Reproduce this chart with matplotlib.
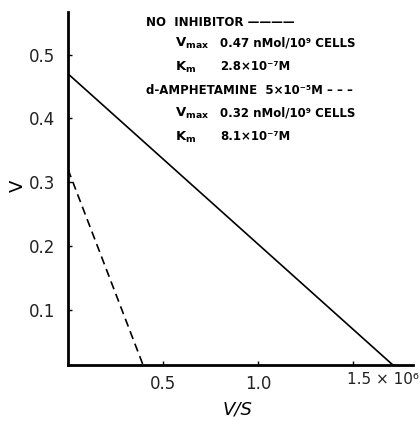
import matplotlib
matplotlib.use('Agg')
import matplotlib.pyplot as plt
import matplotlib.transforms as mtransforms

# values (x in units of 10^6)
solid_x = [0.0, 1.71]
solid_v = [0.47, 0.013]
dashed_x = [0.0, 0.395]
dashed_v = [0.32, 0.013]

y_ticks = [0.1, 0.2, 0.3, 0.4, 0.5]
y_tick_labels = ['0.1', '0.2', '0.3', '0.4', '0.5']
x_ticks = [0.5, 1.0, 1.5]
x_tick_labels = ['0.5', '1.0', '']

vmax_text = ['0.47 nMol/10⁹ CELLS', '0.32 nMol/10⁹ CELLS']
km_text = ['2.8×10⁻⁷M', '8.1×10⁻⁷M']
group_text = ['NO  INHIBITOR ————', 'd-AMPHETAMINE  5×10⁻⁵M – – –']


def plot_lines():
    fig = plt.figure(figsize=(4.2, 4.21), dpi=100)
    ax = fig.add_axes([68 / 420, 1 - 365 / 421, (413 - 68) / 420, (365 - 12) / 421])

    ax.plot(solid_x, solid_v, '-', c='black', lw=1.2)
    ax.plot(dashed_x, dashed_v, c='black', lw=1.2, dashes=(5, 3))

    ax.set_xlim(0, 1.816)
    ax.set_ylim(0.013, 0.567)

    for side in ['top', 'right']:
        ax.spines[side].set_visible(False)
    for side in ['left', 'bottom']:
        ax.spines[side].set_linewidth(2.0)

    ax.set_yticks(y_ticks)
    ax.set_yticklabels(y_tick_labels)
    ax.set_xticks(x_ticks)
    ax.set_xticklabels(x_tick_labels)
    ax.tick_params(axis='y', direction='in', length=3, width=1, pad=9, labelsize=12, labelcolor='#222222')
    ax.tick_params(axis='x', direction='in', length=3, width=1, pad=7, labelsize=12, labelcolor='#222222')

    # last x tick label sits right of its tick in the original
    trans = mtransforms.offset_copy(ax.get_xaxis_transform(), fig=fig, x=-6, y=-7, units='dots')
    ax.text(1.5, 0, '1.5 × 10⁶', transform=trans, ha='left', va='top', fontsize=11, color='#222222')

    fig.text(238 / 420, 1 - 410 / 421, 'V/S', ha='center', va='center', fontsize=13, style='italic')
    fig.text(18 / 420, 1 - 186 / 421, 'V', ha='center', va='center', fontsize=13, rotation=90)

    # key text block
    rows_y = [22, 43, 67, 90, 113, 137]
    for i in range(2):
        y0 = rows_y[3 * i]
        fig.text(146 / 420, 1 - y0 / 421, group_text[i], ha='left', va='center',
                 fontsize=8.5, fontweight='bold')
        fig.text(175 / 420, 1 - rows_y[3 * i + 1] / 421, r'$\mathbf{V_{max}}$', ha='left', va='center',
                 fontsize=9.5)
        fig.text(220 / 420, 1 - rows_y[3 * i + 1] / 421, vmax_text[i], ha='left', va='center',
                 fontsize=8.5, fontweight='bold')
        fig.text(175 / 420, 1 - rows_y[3 * i + 2] / 421, r'$\mathbf{K_{m}}$', ha='left', va='center',
                 fontsize=9.5)
        fig.text(220 / 420, 1 - rows_y[3 * i + 2] / 421, km_text[i], ha='left', va='center',
                 fontsize=8.5, fontweight='bold')

    fig.savefig('out.png', dpi=100)


if __name__ == "__main__":
    plot_lines()
